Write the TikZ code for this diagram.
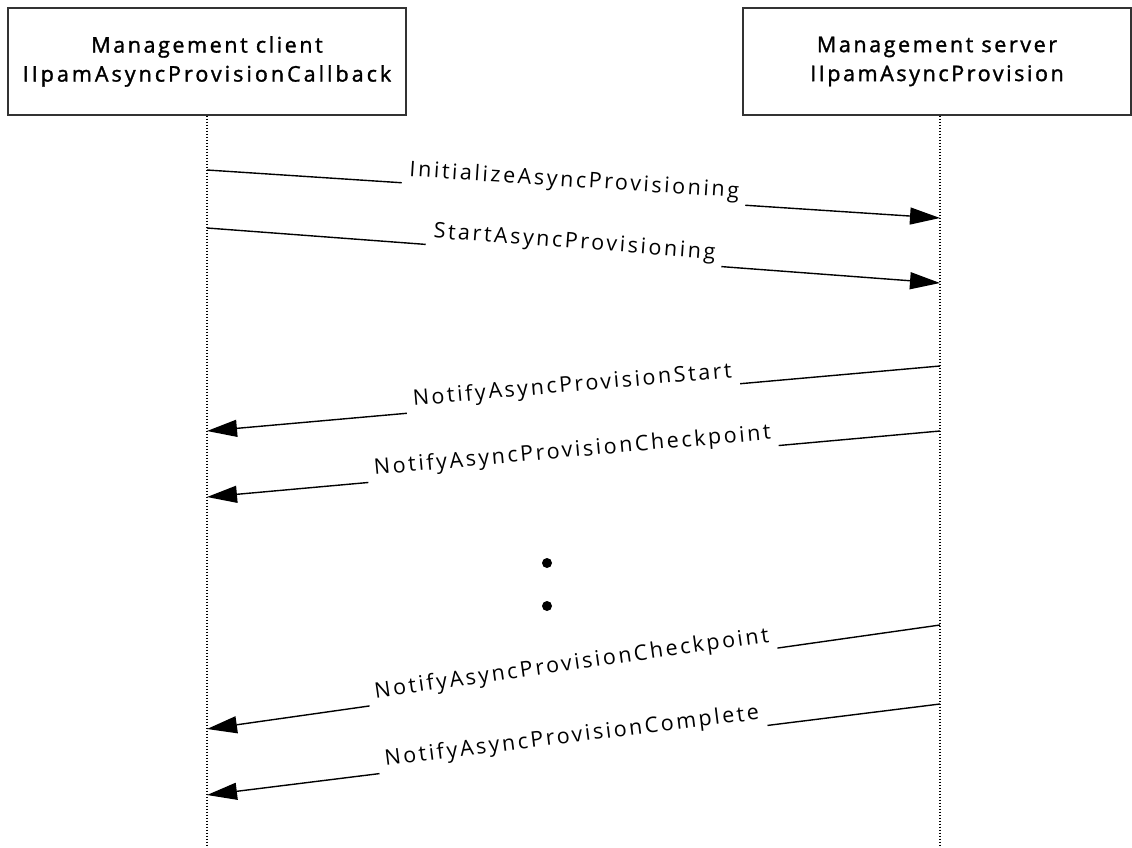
\documentclass[tikz,border=0pt]{standalone}
\usepackage{fontspec}
\setmainfont{Open Sans}
\newfontfamily\hdrfont[LetterSpace=12, FakeBold=1.5]{Open Sans}
\newfontfamily\hdrwidefont[LetterSpace=14, FakeBold=1.5]{Open Sans}
\newfontfamily\lblfont[LetterSpace=12]{Open Sans}
\newcommand{\msgtext}[1]{\raisebox{7pt}{#1}}
\usetikzlibrary{arrows.meta}
\begin{document}
\begin{tikzpicture}[x=1pt,y=-1pt,
  actor/.style={draw=black!80, line width=1.3pt, align=center, inner sep=0pt,
    font=\hdrfont\fontsize{21.5}{29}\selectfont},
  lifeline/.style={line width=1.1pt, dash pattern=on 1.1pt off 1.9pt},
  msg/.style={line width=1.4pt, -{Triangle[length=30pt,width=17pt]}},
  lbl/.style={midway, sloped, fill=white, anchor=base, inner xsep=7pt, inner ysep=2pt,
    font=\lblfont\fontsize{21.5}{24}\selectfont},
  ddot/.style={circle, fill=black, inner sep=0pt, minimum size=10pt}]
\useasboundingbox (0,0) rectangle (1132,848);
\node[actor, minimum width=398pt, minimum height=107pt] (cl) at (207,61.5)
  {Management client\\{\hdrwidefont IIpamAsyncProvisionCallback}};
\node[actor, minimum width=388pt, minimum height=107pt] (sv) at (937,61.5)
  {Management server\\IIpamAsyncProvision};
\coordinate (clend) at (207,848);
\coordinate (svend) at (940,848);
\draw[lifeline] (cl.south) -- (clend);
\draw[lifeline] (sv.south -| svend) -- (svend);
% message end points
\coordinate (a1) at (207,170); \coordinate (b1) at (940,218);
\coordinate (a2) at (207,228); \coordinate (b2) at (940,283);
\coordinate (b3) at (940,366); \coordinate (a3) at (207,431);
\coordinate (b4) at (940,431); \coordinate (a4) at (207,497);
\coordinate (b5) at (940,625); \coordinate (a5) at (207,729);
\coordinate (b6) at (940,704); \coordinate (a6) at (207,795);
\draw[msg] (a1) -- node[lbl] (l1) {\msgtext{InitializeAsyncProvisioning}} (b1);
\draw[msg] (a2) -- node[lbl] (l2) {\msgtext{StartAsyncProvisioning}} (b2);
\draw[msg] (b3) -- node[lbl] (l3) {\msgtext{NotifyAsyncProvisionStart}} (a3);
\draw[msg] (b4) -- node[lbl] (l4) {\msgtext{NotifyAsyncProvisionCheckpoint}} (a4);
\node[ddot] (d1) at (547,563) {};
\node[ddot] (d2) at (547,606) {};
\draw[msg] (b5) -- node[lbl] (l5) {\msgtext{NotifyAsyncProvisionCheckpoint}} (a5);
\draw[msg] (b6) -- node[lbl] (l6) {\msgtext{NotifyAsyncProvisionComplete}} (a6);
\end{tikzpicture}
\end{document}
